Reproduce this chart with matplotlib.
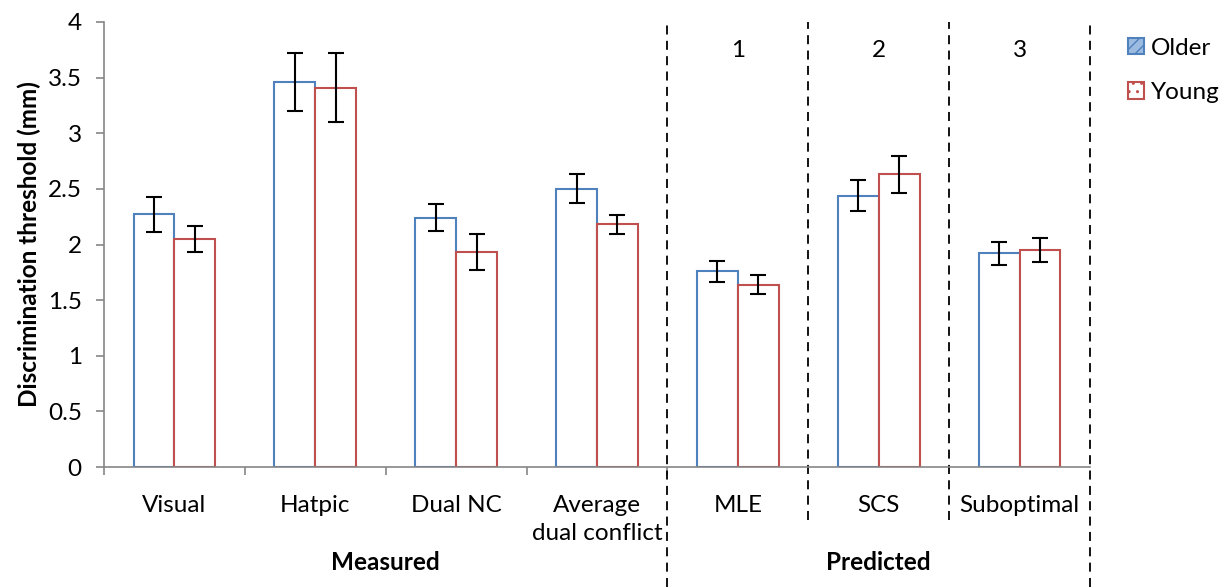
import numpy as np
import matplotlib.pyplot as plt
from matplotlib.patches import Patch

plt.rcParams['font.family'] = ['Lato', 'DejaVu Sans']

# Datos
categorias = ['Visual', 'Hatpic', 'Dual NC', 'Average\ndual conflict', 'MLE', 'SCS', 'Suboptimal']
older = [2.27, 3.46, 2.24, 2.50, 1.76, 2.44, 1.92]
older_err = [0.155, 0.26, 0.12, 0.13, 0.095, 0.14, 0.10]
young = [2.05, 3.41, 1.93, 2.18, 1.64, 2.63, 1.95]
young_err = [0.12, 0.31, 0.16, 0.085, 0.087, 0.165, 0.11]
numeros = ['1', '2', '3']
grupos = ['Measured', 'Predicted']

azul = '#4F81BD'
rojo = '#C0504D'
gris = '#868686'
fs = 17.5

fig = plt.figure(figsize=(12.25, 5.87), dpi=100)
ax = fig.add_axes([104 / 1225, (587 - 467) / 587, (1090 - 104) / 1225, 445 / 587])

x = np.arange(len(categorias))
w = 0.29
ax.bar(x - w / 2, older, w, facecolor='white', edgecolor=azul, linewidth=1.5, label='Older')
ax.bar(x + w / 2, young, w, facecolor='white', edgecolor=rojo, linewidth=1.5, label='Young')
ax.errorbar(x - w / 2, older, yerr=older_err, fmt='none', ecolor='black', elinewidth=1.5, capsize=6, capthick=1.5)
ax.errorbar(x + w / 2, young, yerr=young_err, fmt='none', ecolor='black', elinewidth=1.5, capsize=6, capthick=1.5)

ax.set_xlim(-0.5, 6.5)
ax.set_ylim(0, 4)
ax.set_yticks(np.arange(0, 4.01, 0.5))
ax.set_yticklabels(['0', '0.5', '1', '1.5', '2', '2.5', '3', '3.5', '4'], fontsize=fs)

# ticks en los limites de categoria, etiquetas en el centro
ax.set_xticks([-0.5, 0.5, 1.5, 2.5, 3.5])
ax.set_xticklabels([])
ax.set_xticks(x, minor=True)
ax.set_xticklabels(categorias, minor=True, fontsize=fs, va='top', linespacing=1.4)
ax.tick_params(axis='x', which='major', length=6, color=gris, width=1.2)
ax.tick_params(axis='x', which='minor', length=0, pad=20)
ax.tick_params(axis='y', length=6, color=gris, width=1.2, pad=10)

for s in ['top', 'right']:
    ax.spines[s].set_visible(False)
for s in ['left', 'bottom']:
    ax.spines[s].set_color(gris)
    ax.spines[s].set_linewidth(1.2)

ax.set_ylabel('Discrimination threshold (mm)', fontsize=fs, fontweight='bold')
ax.yaxis.set_label_coords(-0.064, 0.5)

# lineas discontinuas
for xv, yb in [(3.5, -0.27), (4.5, -0.12), (5.5, -0.12), (6.5, -0.27)]:
    ax.plot([xv, xv], [yb, 1.0], transform=ax.get_xaxis_transform(), color='black',
            linestyle=(0, (5, 3.5)), linewidth=1.3, clip_on=False)

for i, n in enumerate(numeros):
    ax.text(4 + i, 0.935, n, transform=ax.get_xaxis_transform(), ha='center', va='center', fontsize=fs)

ax.text(1.5, -0.214, grupos[0], transform=ax.get_xaxis_transform(), ha='center', va='center',
        fontsize=fs, fontweight='bold')
ax.text(5.0, -0.214, grupos[1], transform=ax.get_xaxis_transform(), ha='center', va='center',
        fontsize=fs, fontweight='bold')

handles = [Patch(facecolor='#9dbbe0', edgecolor=azul, hatch='///', linewidth=1.5),
           Patch(facecolor='white', edgecolor=rojo, hatch='..', linewidth=1.5)]
fig.legend(handles, ['Older', 'Young'], loc='upper left', bbox_to_anchor=(1106 / 1225, 1 - 16 / 587),
           frameon=False, fontsize=fs, handlelength=0.65, handleheight=0.65, handletextpad=0.3,
           labelspacing=0.95)

plt.savefig('out.png', dpi=100)
